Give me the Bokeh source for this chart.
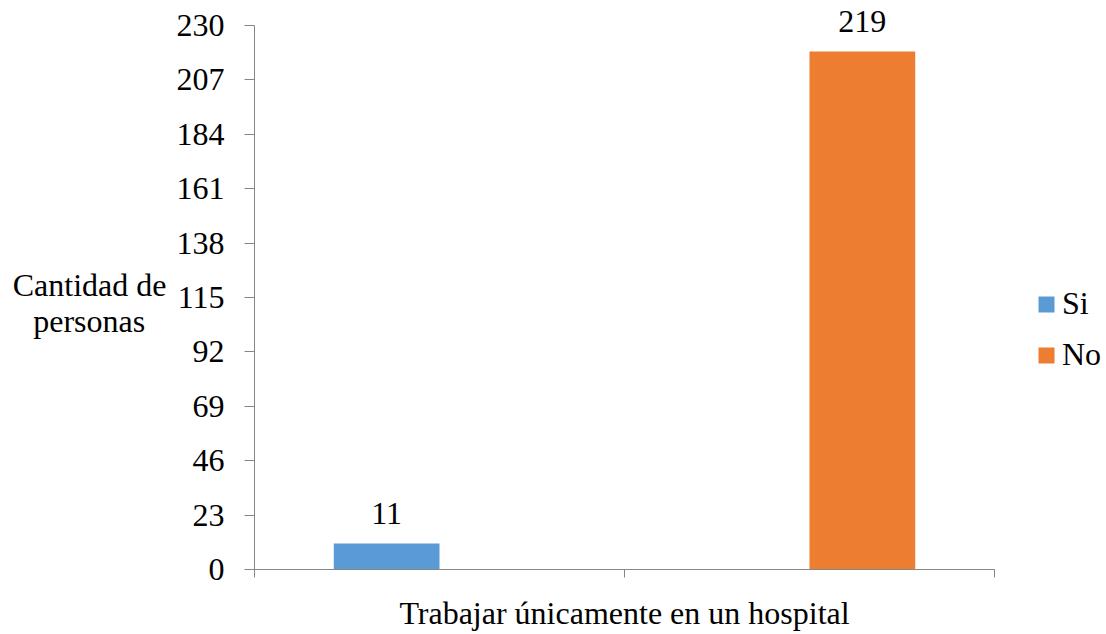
from bokeh.plotting import figure
from bokeh.models import Range1d, FixedTicker, ColumnDataSource, Legend, LegendItem
from bokeh.core.properties import value
from bokeh.transform import dodge
from bokeh.embed import file_html
from bokeh.resources import INLINE

# ---- data ----
groups = ["Grupo 1", "Grupo 2"]
series_names = ["Si", "No"]
si_values = [11, 0]
no_values = [0, 219]
series_colors = ["#5B9BD5", "#ED7D31"]
y_ticks = [0, 23, 46, 69, 92, 115, 138, 161, 184, 207, 230]
x_title = "Trabajar únicamente en un hospital"
y_title = "\nCantidad de\npersonas\u2002\u2006"

FONT = "'Liberation Serif'"
FS = "32px"
AXIS_COLOR = "#868686"

# layout (pixels)
AXIS_PX = 544          # height of the 0..230 axis
TOP_PAD = 25           # room above the axis top, kept inside the frame so labels are not clipped

n_series = len(series_names)
gap = 1.5
bar_w = 1.0 / (n_series + gap)
offsets = [(i - (n_series - 1) / 2) * bar_w for i in range(n_series)]
centers = [i + 0.5 for i in range(len(groups))]
y_end = y_ticks[-1] * (AXIS_PX + TOP_PAD) / AXIS_PX

p = figure(frame_width=740, frame_height=AXIS_PX + TOP_PAD, output_backend="svg", toolbar_location=None,
           x_range=Range1d(0, len(groups)), y_range=Range1d(y_ticks[0], y_end),
           min_border_left=254, min_border_right=112, min_border_top=0, min_border_bottom=65)
p.outline_line_color = None
p.grid.visible = False
p.background_fill_color = "white"
p.border_fill_color = "white"

renderers = []
for vals, name, color, off in zip([si_values, no_values], series_names, series_colors, offsets):
    src = ColumnDataSource(dict(x=centers, top=vals))
    r = p.vbar(x=dodge("x", off, range=p.x_range), top="top", width=bar_w, source=src,
               fill_color=color, line_color=None)
    renderers.append(r)
    lab_x = [c for c, v in zip(centers, vals) if v > 0]
    lab_v = [v for v in vals if v > 0]
    lsrc = ColumnDataSource(dict(x=lab_x, y=lab_v, t=[str(v) for v in lab_v]))
    p.text(x=dodge("x", off, range=p.x_range), y="y", text="t", source=lsrc,
           text_align="center", text_baseline="alphabetic", y_offset=-30,
           text_font=value(FONT), text_font_size=FS, text_color="black")

# axes
p.yaxis.ticker = FixedTicker(ticks=y_ticks)
p.yaxis.bounds = (y_ticks[0], y_ticks[-1])
p.xaxis.ticker = FixedTicker(ticks=list(range(len(groups) + 1)))
for ax in (p.xaxis[0], p.yaxis[0]):
    ax.axis_line_color = AXIS_COLOR
    ax.major_tick_line_color = AXIS_COLOR
    ax.minor_tick_line_color = None
    ax.major_tick_in = 0
    ax.major_label_text_font = FONT
    ax.major_label_text_font_size = FS
    ax.major_label_text_color = "black"
    ax.axis_label_text_font = FONT
    ax.axis_label_text_font_size = FS
    ax.axis_label_text_font_style = "normal"
    ax.axis_label_text_color = "black"
p.yaxis.major_tick_out = 10
p.yaxis.major_label_standoff = 20
p.yaxis.axis_label = y_title
p.yaxis.axis_label_orientation = "horizontal"
p.yaxis.axis_label_text_line_height = 1.0
p.yaxis.axis_label_standoff = 7
p.xaxis.major_tick_out = 8
p.xaxis.major_label_overrides = {t: "" for t in range(len(groups) + 1)}
p.xaxis.major_label_text_font_size = "1px"
p.xaxis.major_label_standoff = 0
p.xaxis.axis_label = x_title
p.xaxis.axis_label_standoff = 17

legend = Legend(items=[LegendItem(label=n, renderers=[r]) for n, r in zip(series_names, renderers)],
                location=(42, 196), orientation="vertical",
                label_text_font=FONT, label_text_font_size=FS, label_text_color="black",
                glyph_width=20, glyph_height=20, label_standoff=6, spacing=14,
                padding=0, margin=0, border_line_color=None, background_fill_alpha=0)
p.add_layout(legend, "right")

open("out.html", "w").write(file_html(p, INLINE))
